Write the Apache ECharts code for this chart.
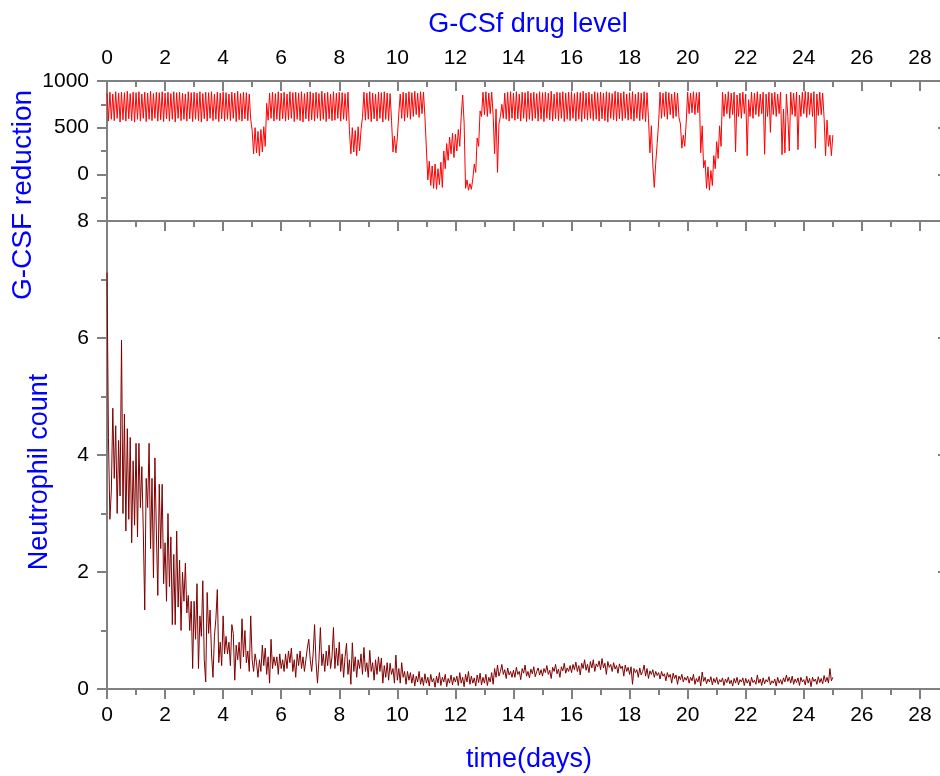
<!DOCTYPE html>
<html>
<head>
<meta charset="utf-8">
<script src="https://cdn.jsdelivr.net/npm/echarts@6/dist/echarts.min.js"></script>
<style>
  html, body { margin: 0; padding: 0; background: #fff; overflow: hidden; }
  /* plot frame runs past the right edge of the window, as in the original */
  #main { width: 990px; height: 776px; }
</style>
</head>
<body>
<div id="main"></div>
<script>
// sampling step of both traces (days)
var timeStep = 0.05;

// G-CSF reduction, 20 samples per day, day 0 .. 25
var gcsfReduction = [
  870,570,880,590,860,575,885,600,870,560,880,585,875,570,890,595,865,575,880,560,
  875,590,885,570,860,600,880,565,870,590,890,575,865,600,880,570,875,585,885,565,
  870,595,880,570,865,590,885,560,875,600,880,575,870,590,860,570,885,595,875,565,
  880,590,870,575,885,560,865,595,880,570,875,600,885,575,860,590,880,565,870,595,
  885,570,875,590,860,575,880,600,870,565,890,585,865,570,880,595,875,575,860,590,
  470,220,500,230,460,200,480,240,510,300,760,580,870,600,880,570,865,590,885,575,
  870,595,880,570,860,585,885,600,875,565,880,590,870,575,885,560,865,595,880,570,
  885,585,870,570,880,600,865,575,890,590,870,565,880,595,860,575,885,580,870,600,
  880,570,875,590,865,575,880,470,220,500,240,470,200,510,250,480,610,880,580,870,
  590,885,565,870,595,860,570,880,600,875,560,885,590,870,575,865,580,240,410,230,
  390,650,860,600,880,570,870,610,885,590,875,620,890,640,870,610,885,650,880,620,
  600,-60,140,-120,90,-150,110,-160,60,-110,130,-140,250,60,330,150,400,220,440,180,
  430,250,480,300,620,850,550,-150,-60,-170,-100,-160,-50,110,20,390,300,680,620,880,
  640,885,620,870,650,880,630,220,700,20,540,620,750,600,870,590,880,570,885,600,
  870,580,885,595,860,570,880,600,875,565,890,590,870,575,880,600,865,570,885,590,
  875,565,880,600,870,585,890,570,860,595,880,575,875,600,885,565,870,590,880,575,
  885,600,865,570,880,590,875,565,890,595,870,580,880,600,860,575,885,590,875,570,
  880,595,870,575,885,560,875,600,865,585,890,570,880,595,870,575,885,600,860,580,
  875,590,885,570,860,600,880,575,870,590,885,565,875,600,230,520,100,-140,120,330,
  560,880,600,870,620,885,590,875,640,860,600,880,620,870,610,540,280,420,300,560,
  880,650,870,660,885,640,875,660,880,230,520,70,150,-150,80,-170,40,-120,200,60,
  350,170,520,300,880,620,860,650,885,600,870,640,880,240,850,620,870,600,880,650,
  860,200,800,620,880,600,870,640,885,620,860,650,880,215,860,620,880,450,870,640,
  880,620,860,650,880,210,700,230,860,620,250,880,640,870,620,880,265,850,620,880,
  650,890,610,880,640,870,620,885,280,860,630,880,640,870,600,200,580,300,420,200,
  420
];

// Neutrophil count, same sampling
var neutrophilCount = [
  7.12,4.3,2.9,3.4,4.8,3.6,4.5,3.0,4.25,3.3,5.96,3.0,4.7,2.7,4.45,2.9,4.3,2.5,3.9,2.8,
  4.2,2.6,4.2,3.1,3.8,2.7,1.35,3.6,3.1,4.2,2.4,3.6,1.9,3.95,2.7,1.6,3.5,2.4,3.5,1.8,
  2.5,1.5,3.0,1.75,2.6,1.1,2.3,1.1,2.7,1.4,2.2,1.0,2.0,1.5,2.15,1.3,1.6,1.0,1.5,0.35,
  1.5,0.85,1.8,0.35,1.25,0.9,1.85,0.5,0.12,1.65,0.95,1.35,0.6,0.2,0.9,1.2,1.7,0.45,0.8,0.4,
  1.25,0.6,0.9,0.6,0.8,0.4,1.1,0.95,0.15,0.75,0.5,0.8,0.35,1.2,0.55,1.0,0.45,0.65,0.3,1.25,
  0.5,0.3,0.6,0.45,0.2,0.5,0.3,0.75,0.4,0.7,0.25,0.55,0.1,0.85,0.35,0.55,0.4,0.55,0.25,0.6,
  0.35,0.5,0.3,0.6,0.35,0.65,0.45,0.7,0.3,0.5,0.2,0.6,0.4,0.65,0.35,0.55,0.3,0.5,0.7,0.85,
  0.5,0.3,0.6,1.1,0.45,0.1,0.5,1.05,0.4,0.6,0.3,0.65,0.4,0.75,0.35,0.55,1.05,0.35,0.7,0.4,
  0.8,0.3,0.6,0.2,0.55,0.78,0.25,0.5,0.08,0.79,0.3,0.55,0.2,0.5,0.35,0.6,0.25,0.71,0.3,0.45,
  0.2,0.66,0.3,0.45,0.15,0.5,0.25,0.55,0.3,0.53,0.1,0.4,0.2,0.45,0.15,0.44,0.25,0.35,0.1,0.58,
  0.15,0.35,0.1,0.45,0.2,0.3,0.08,0.3,0.15,0.28,0.1,0.25,0.05,0.22,0.12,0.3,0.08,0.2,0.06,0.26,
  0.1,0.2,0.05,0.25,0.12,0.18,0.03,0.22,0.1,0.28,0.06,0.2,0.12,0.25,0.04,0.18,0.1,0.24,0.07,0.2,
  0.12,0.22,0.06,0.28,0.1,0.2,0.04,0.25,0.12,0.3,0.08,0.22,0.1,0.19,0.05,0.24,0.11,0.27,0.07,0.2,
  0.1,0.25,0.06,0.2,0.12,0.28,0.08,0.35,0.2,0.41,0.22,0.3,0.42,0.25,0.33,0.18,0.36,0.24,0.3,0.2,
  0.32,0.2,0.37,0.25,0.3,0.16,0.35,0.27,0.41,0.22,0.3,0.19,0.34,0.26,0.38,0.21,0.3,0.36,0.24,0.33,
  0.22,0.35,0.28,0.4,0.25,0.32,0.18,0.37,0.3,0.42,0.26,0.34,0.2,0.38,0.31,0.44,0.27,0.36,0.3,0.4,
  0.28,0.42,0.33,0.46,0.3,0.4,0.24,0.44,0.35,0.5,0.32,0.42,0.28,0.47,0.36,0.5,0.3,0.43,0.38,0.48,
  0.33,0.52,0.36,0.44,0.25,0.47,0.37,0.42,0.3,0.45,0.34,0.4,0.27,0.43,0.35,0.39,0.22,0.41,0.3,0.37,
  0.25,0.38,0.08,0.35,0.28,0.33,0.2,0.36,0.24,0.3,0.41,0.22,0.35,0.18,0.31,0.25,0.33,0.2,0.3,0.23,
  0.28,0.17,0.3,0.22,0.26,0.14,0.28,0.2,0.25,0.1,0.27,0.18,0.24,0.08,0.22,0.16,0.25,0.12,0.2,0.15,
  0.22,0.1,0.2,0.14,0.25,0.08,0.18,0.12,0.22,0.05,0.29,0.13,0.2,0.09,0.17,0.12,0.21,0.07,0.18,0.11,
  0.2,0.08,0.16,0.12,0.19,0.06,0.17,0.11,0.2,0.09,0.15,0.05,0.18,0.1,0.2,0.07,0.16,0.12,0.19,0.06,
  0.18,0.1,0.16,0.05,0.2,0.11,0.15,0.08,0.24,0.1,0.17,0.06,0.19,0.09,0.16,0.12,0.21,0.07,0.14,0.1,
  0.17,0.05,0.2,0.1,0.16,0.08,0.19,0.12,0.24,0.13,0.2,0.1,0.22,0.08,0.17,0.11,0.19,0.06,0.2,0.12,
  0.16,0.07,0.22,0.1,0.18,0.04,0.2,0.13,0.17,0.08,0.21,0.11,0.18,0.09,0.23,0.12,0.2,0.1,0.35,0.14,
  0.2
];

var font = 'Liberation Sans, Arial, sans-serif';
var axisGray = '#808080';

function pairs(values) {
  var out = [];
  for (var i = 0; i < values.length; i++) {
    out.push([+(i * timeStep).toFixed(2), values[i]]);
  }
  return out;
}

function xAxisCfg(grid, pos, showLabel, tickInside) {
  return {
    type: 'value', gridIndex: grid, position: pos,
    min: 0, max: 30, interval: 2,
    axisLine: { show: true, onZero: false, lineStyle: { color: axisGray, width: 2 } },
    axisTick: { show: true, inside: tickInside, length: 10, lineStyle: { color: axisGray, width: 2 } },
    minorTick: { show: true, splitNumber: 2, length: 6, lineStyle: { color: axisGray, width: 2 } },
    axisLabel: { show: showLabel, showMaxLabel: false, margin: pos == 'top' ? 12 : 16,
      fontFamily: font, fontSize: 21, color: '#000' },
    splitLine: { show: false }
  };
}

var chart = echarts.init(document.getElementById('main'));
chart.setOption({
  animation: false,
  backgroundColor: '#fff',
  grid: [
    { left: 107, top: 81, width: 871, height: 140 },
    { left: 107, top: 221, width: 871, height: 468 }
  ],
  xAxis: [
    xAxisCfg(0, 'top', true, true),
    Object.assign(xAxisCfg(0, 'bottom', false, false), { axisTick: { show: false }, minorTick: { show: false } }),
    xAxisCfg(1, 'bottom', true, false),
    xAxisCfg(1, 'top', false, true)
  ],
  yAxis: [
    {
      type: 'value', gridIndex: 0, position: 'left', min: -500, max: 1000, interval: 500,
      axisLine: { show: true, onZero: false, lineStyle: { color: axisGray, width: 2 } },
      axisTick: { show: true, length: 10, lineStyle: { color: axisGray, width: 2 } },
      minorTick: { show: true, splitNumber: 2, length: 6, lineStyle: { color: axisGray, width: 2 } },
      axisLabel: { margin: 18, fontFamily: font, fontSize: 21, color: '#000',
        formatter: function (v) { return v < 0 ? '' : v; } },
      splitLine: { show: false }
    },
    {
      type: 'value', gridIndex: 0, position: 'right', offset: -30, min: -500, max: 1000, interval: 500,
      axisLine: { show: true, onZero: false, lineStyle: { color: axisGray, width: 2 } },
      axisTick: { show: true, inside: true, length: 10, lineStyle: { color: axisGray, width: 2 } },
      axisLabel: { show: false },
      splitLine: { show: false }
    },
    {
      type: 'value', gridIndex: 1, position: 'left', min: 0, max: 8, interval: 2,
      axisLine: { show: true, onZero: false, lineStyle: { color: axisGray, width: 2 } },
      axisTick: { show: true, length: 10, lineStyle: { color: axisGray, width: 2 } },
      minorTick: { show: true, splitNumber: 2, length: 6, lineStyle: { color: axisGray, width: 2 } },
      axisLabel: { margin: 18, fontFamily: font, fontSize: 21, color: '#000' },
      splitLine: { show: false }
    },
    {
      type: 'value', gridIndex: 1, position: 'right', offset: -30, min: 0, max: 8, interval: 2,
      axisLine: { show: true, onZero: false, lineStyle: { color: axisGray, width: 2 } },
      axisTick: { show: true, inside: true, length: 10, lineStyle: { color: axisGray, width: 2 } },
      axisLabel: { show: false },
      splitLine: { show: false }
    }
  ],
  series: [
    {
      name: 'G-CSF reduction', type: 'line', xAxisIndex: 0, yAxisIndex: 0,
      data: pairs(gcsfReduction), showSymbol: false,
      lineStyle: { color: '#ff0000', width: 1 }
    },
    {
      name: 'Neutrophil count', type: 'line', xAxisIndex: 2, yAxisIndex: 2,
      data: pairs(neutrophilCount), showSymbol: false,
      lineStyle: { color: '#800000', width: 1 }
    }
  ],
  graphic: [
    { type: 'text', x: 528, y: 25, style: { text: 'G-CSf drug level', font: '27px ' + font, fill: '#0000ff', align: 'center', verticalAlign: 'middle' } },
    { type: 'text', x: 529, y: 760, style: { text: 'time(days)', font: '27px ' + font, fill: '#0000ff', align: 'center', verticalAlign: 'middle' } },
    { type: 'text', x: 23, y: 195, rotation: Math.PI / 2, style: { text: 'G-CSF reduction', font: '28px ' + font, fill: '#0000ff', align: 'center', verticalAlign: 'middle' } },
    { type: 'text', x: 40, y: 472, rotation: Math.PI / 2, style: { text: 'Neutrophil count', font: '27px ' + font, fill: '#0000ff', align: 'center', verticalAlign: 'middle' } }
  ]
});
</script>
</body>
</html>
